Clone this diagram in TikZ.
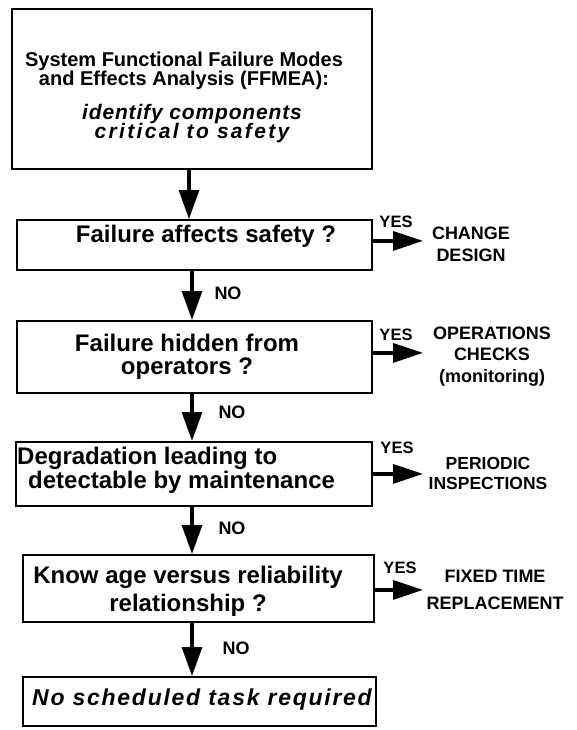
\documentclass[tikz,border=0pt]{standalone}
\usepackage{fontspec}
\setmainfont{Liberation Sans}
\newfontfamily\spacedit{Liberation Sans}[LetterSpace=4]
\newfontfamily\widerit{Liberation Sans}[LetterSpace=7.5]
\newfontfamily\widestit{Liberation Sans}[LetterSpace=11]
\usetikzlibrary{arrows.meta}
\newcommand\setsz[2]{\fontsize{#1}{#2}\selectfont}

\begin{document}
\begin{tikzpicture}[x=1pt,y=-1pt,
  box/.style={draw, line width=1.8pt, inner sep=0pt, anchor=north west},
  flowdown/.style={line width=3.2pt, -{Triangle[length=29pt,width=20pt]}},
  flowright/.style={line width=3.2pt, -{Triangle[length=30pt,width=19pt]}},
  txt/.style={inner sep=0pt, align=center},
  qtext/.style={txt, font=\bfseries\setsz{24}{23}},
  yes/.style={inner sep=0pt, font=\bfseries\setsz{16.5}{16.5}},
  no/.style={inner sep=0pt, font=\bfseries\setsz{18}{18}},
  action/.style={txt, font=\bfseries\setsz{18}{21.5}}]

\useasboundingbox (0,0) rectangle (576,730);

% decision boxes
\node[box, minimum width=360pt, minimum height=160pt] (b1) at (11,8) {};
\node[box, minimum width=355pt, minimum height=50pt]  (b2) at (16,219) {};
\node[box, minimum width=355pt, minimum height=72pt]  (b3) at (16,320) {};
\node[box, minimum width=356pt, minimum height=64pt]  (b4) at (15,441) {};
\node[box, minimum width=351pt, minimum height=67pt]  (b5) at (22,554) {};
\node[box, minimum width=353pt, minimum height=49pt]  (b6) at (22,676) {};

% box texts
\node[txt, font=\bfseries\setsz{20}{19}] (h1) at (184,71)
  {System Functional Failure Modes\\and Effects Analysis (FFMEA):};
\node[txt, font=\spacedit\bfseries\itshape\setsz{21}{19}] (h2a) at (192,114)
  {identify components};
\node[txt, font=\widestit\bfseries\itshape\setsz{21}{19}] (h2b) at (192,133)
  {critical to safety};
\node[qtext] (q2) at (206,236) {Failure affects safety ?};
\node[qtext] (q3) at (187,356.5) {Failure hidden from\\operators ?};
\node[txt, align=left, anchor=west, font=\bfseries\setsz{24}{21}] (q4) at (17,470.5)
  {Degradation leading to\\\hspace*{11pt}detectable by maintenance};
\node[txt, font=\bfseries\setsz{24}{28}] (q5) at (188,591) {Know age versus reliability\\relationship ?};
\node[inner sep=0pt, anchor=west, font=\widerit\bfseries\itshape\setsz{23}{23}] (q6) at (32,700)
  {No scheduled task required};

% vertical flow
\coordinate (s1) at (189,0);
\coordinate (s2) at (192,0);
\draw[flowdown] (b1.south -| s1) -- (b2.north -| s1);
\draw[flowdown] (b2.south -| s2) -- (b3.north -| s2);
\draw[flowdown] (b3.south -| s2) -- (b4.north -| s2);
\draw[flowdown] (b4.south -| s2) -- (b5.north -| s2);
\draw[flowdown] (b5.south -| s2) -- (b6.north -| s2);

\node[no] (n1) at (228,293) {NO};
\node[no] (n2) at (232,412) {NO};
\node[no] (n3) at (232,528) {NO};
\node[no] (n4) at (236,648) {NO};

% branches to the right
\coordinate (tx) at (423,0);
\coordinate (e2) at ([yshift=4pt]b2.east);
\coordinate (e3) at ([yshift=4pt]b3.east);
\coordinate (e5) at ([yshift=-1.5pt]b5.east);
\draw[flowright] (e2) -- (e2 -| tx);
\draw[flowright] (e3) -- (e3 -| tx);
\draw[flowright] (b4.east) -- (b4.east -| tx);
\draw[flowright] (e5) -- (e5 -| tx);

\node[yes] (y1) at (396,222) {YES};
\node[yes] (y2) at (396,335) {YES};
\node[yes] (y3) at (397,448) {YES};
\node[yes] (y4) at (400,568) {YES};

\node[action, font=\bfseries\setsz{18}{22}] (a1) at (471,244) {CHANGE\\DESIGN};
\node[action] (a2) at (492,356.5) {OPERATIONS\\CHECKS\\(monitoring)};
\node[action, font=\bfseries\setsz{17.5}{20}] (a3) at (488,473) {PERIODIC\\INSPECTIONS};
\node[action, font=\bfseries\setsz{18}{27}] (a4) at (495,589.5) {FIXED TIME\\REPLACEMENT};
\end{tikzpicture}
\end{document}
